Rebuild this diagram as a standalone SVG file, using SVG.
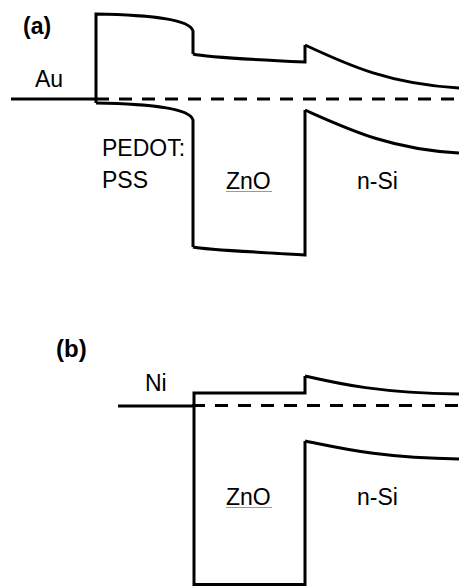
<svg xmlns="http://www.w3.org/2000/svg" width="459" height="586" viewBox="0 0 459 586">
<style>
.band{fill:none;stroke:#000;stroke-width:3;stroke-linejoin:miter}
.fermi{fill:none;stroke:#000;stroke-width:3;stroke-dasharray:13 10}
.lbl{font-family:"Liberation Sans",Arial,sans-serif;font-size:23px;fill:#000}
.pan{font-family:"Liberation Sans",Arial,sans-serif;font-weight:bold;fill:#000}
.ul{stroke:#9a9a9a;stroke-width:1}
</style>
<rect width="459" height="586" fill="#fff"/>
<g id="panel-a">
  <text class="pan" x="23" y="34" font-size="23">(a)</text>
  <g id="a-Au">
    <line class="band" x1="11" y1="99" x2="97" y2="99"/>
    <text class="lbl" x="35" y="87">Au</text>
  </g>
  <g id="a-PEDOT">
    <path class="band" d="M96,103 V14 C150,15 190,19 193,31 V54"/>
    <path class="band" d="M96,103 C150,104 190,108 193,120 V247"/>
    <text class="lbl" x="102" y="156">PEDOT:</text>
    <text class="lbl" x="102" y="188">PSS</text>
  </g>
  <g id="a-ZnO">
    <path class="band" d="M193,54 C205,57 260,60 305,62 V45"/>
    <path class="band" d="M193,247 C205,250 260,252 305,255 V110"/>
    <text class="lbl" x="226" y="189">ZnO</text>
    <line class="ul" x1="226" y1="191.5" x2="272" y2="191.5"/>
  </g>
  <g id="a-nSi">
    <path class="band" d="M305,45 C350,66 390,84 459,88"/>
    <path class="band" d="M305,110 C350,130 390,149 459,153"/>
    <text class="lbl" x="357" y="189">n-Si</text>
  </g>
</g>
<g id="panel-b">
  <text class="pan" x="56" y="357" font-size="24">(b)</text>
  <g id="b-Ni">
    <line class="band" x1="118" y1="406" x2="195" y2="406"/>
    <text class="lbl" x="145" y="391">Ni</text>
  </g>
  <g id="b-ZnO">
    <path class="band" d="M305,376 V393 H194 V584.5 H305 V441"/>
    <text class="lbl" x="226" y="505">ZnO</text>
    <line class="ul" x1="226" y1="507.5" x2="272" y2="507.5"/>
  </g>
  <g id="b-nSi">
    <path class="band" d="M305,376 C340,384 380,393 459,394"/>
    <path class="band" d="M305,441 C340,448 380,458 459,459"/>
    <text class="lbl" x="357" y="505">n-Si</text>
  </g>
</g>
<g id="connectors">
  <line class="fermi" x1="96" y1="99" x2="459" y2="99"/>
  <line class="fermi" x1="192" y1="405.5" x2="459" y2="405.5"/>
</g>
</svg>
